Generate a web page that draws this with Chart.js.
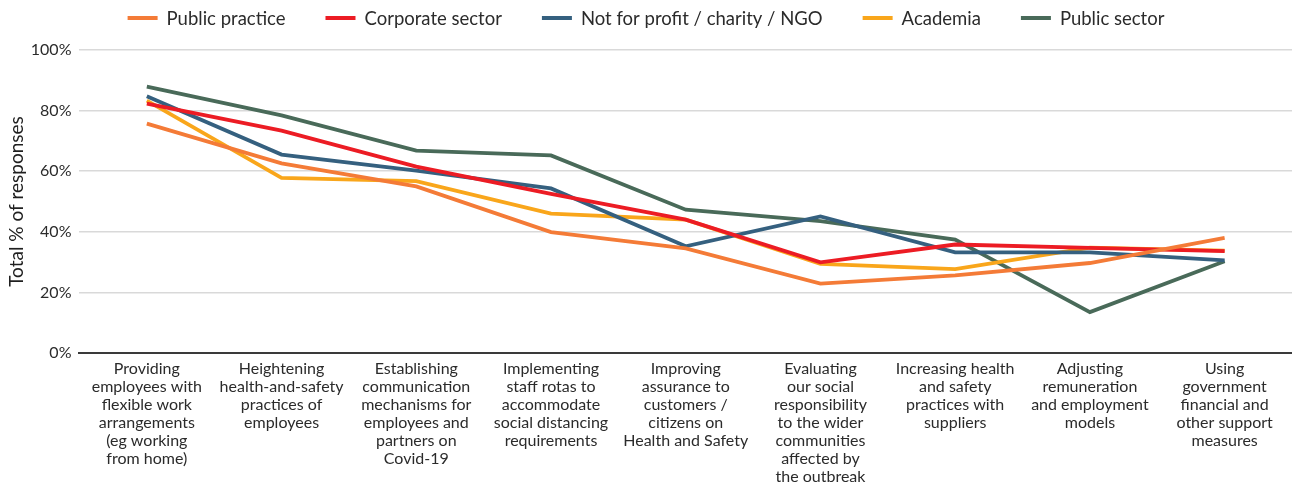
<!DOCTYPE html>
<html>
<head>
<meta charset="utf-8">
<script src="https://cdn.jsdelivr.net/npm/chart.js@4.4.1/dist/chart.umd.min.js"></script>
<style>
	html, body { margin: 0; padding: 0; background: #fff; }
	#wrap { width: 1292px; height: 488px; position: relative; }
</style>
</head>
<body>
<div id="wrap"><canvas id="myChart"></canvas></div>
<script>
var categories = [
	[ "Providing", "employees with", "flexible work", "arrangements", "(eg working", "from home)" ],
	[ "Heightening", "health-and-safety", "practices of", "employees" ],
	[ "Establishing", "communication", "mechanisms for", "employees and", "partners on", "Covid-19" ],
	[ "Implementing", "staff rotas to", "accommodate", "social distancing", "requirements" ],
	[ "Improving", "assurance to", "customers /", "citizens on", "Health and Safety" ],
	[ "Evaluating", "our social", "responsibility", "to the wider", "communities", "affected by", "the outbreak" ],
	[ "Increasing health", "and safety", "practices with", "suppliers" ],
	[ "Adjusting", "remuneration", "and employment", "models" ],
	[ "Using", "government", "financial and", "other support", "measures" ]
];

var seriesNames = [ "Public practice", "Corporate sector", "Not for profit / charity / NGO", "Academia", "Public sector" ];
var seriesColors = [ "#F47B37", "#EC1C24", "#35607F", "#F9A61B", "#496A59" ];

var publicPractice = [ 75.7, 62.6, 55.0, 39.9, 34.5, 22.9, 25.6, 29.7, 38.0 ];
var corporateSector = [ 82.3, 73.4, 61.5, 52.5, 44.0, 29.9, 35.8, 34.7, 33.6 ];
var notForProfit = [ 84.7, 65.5, 60.2, 54.3, 35.2, 45.1, 33.2, 33.2, 30.6 ];
var academia = [ 83.3, 57.8, 56.7, 46.0, 44.0, 29.4, 27.7, 34.8, 33.8 ];
var publicSector = [ 87.9, 78.4, 66.8, 65.2, 47.3, 43.5, 37.4, 13.5, 30.3 ];

var yTicks = [ 0, 20, 40, 60, 80, 100 ];

var seriesValues = [ publicPractice, corporateSector, notForProfit, academia, publicSector ];

var FONT = "Lato, 'Noto Sans', sans-serif";

// legend with short line swatches, drawn above the plot
var lineLegend = {
	id : 'lineLegend',
	afterDraw : function(chart) {
		var ctx = chart.ctx;
		var ds = chart.data.datasets;
		var swatch = 30, gap = 9, spacing = 40, y = 18;
		ctx.save();
		ctx.font = "18.5px " + FONT;
		ctx.textBaseline = 'middle';
		ctx.textAlign = 'left';
		var total = 0;
		for (var i = 0; i < ds.length; i++) {
			total += swatch + gap + ctx.measureText(ds[i].label).width;
			if (i < ds.length - 1) total += spacing;
		}
		var x = (chart.width - total) / 2;
		for (var i = 0; i < ds.length; i++) {
			ctx.fillStyle = ds[i].borderColor;
			ctx.fillRect(x, y - 2, swatch, 4);
			x += swatch + gap;
			ctx.fillStyle = '#2b2b2b';
			ctx.fillText(ds[i].label, x, y + 1);
			x += ctx.measureText(ds[i].label).width + spacing;
		}
		ctx.restore();
	}
};

var datasets = [];
for (var i = 0; i < seriesNames.length; i++) {
	datasets.push({
		label : seriesNames[i],
		data : seriesValues[i],
		borderColor : seriesColors[i],
		backgroundColor : seriesColors[i],
		borderWidth : 3.8,
		pointRadius : 0,
		pointHoverRadius : 0,
		tension : 0,
		fill : false
	});
}

var ctx = document.getElementById("myChart").getContext('2d');
var myChart = new Chart(ctx, {
	type : 'line',
	data : {
		labels : categories,
		datasets : datasets
	},
	plugins : [ lineLegend ],
	options : {
		responsive : true,
		maintainAspectRatio : false,
		animation : false,
		layout : {
			padding : { top : 50, left : 5, right : 0, bottom : -5 }
		},
		plugins : {
			legend : { display : false },
			tooltip : { enabled : false }
		},
		scales : {
			x : {
				offset : true,
				grid : { display : false, drawTicks : false },
				border : { display : true, color : '#3a3a3a', width : 2 },
				ticks : {
					color : '#2b2b2b',
					font : { family : FONT, size : 16, lineHeight : 1.125 },
					maxRotation : 0,
					autoSkip : false,
					padding : 7
				}
			},
			y : {
				min : 0,
				max : 100,
				afterBuildTicks : function(scale) {
					scale.ticks = yTicks.map(function(v) { return { value : v }; });
				},
				grid : { color : '#d9d9d9', lineWidth : 1.5, drawTicks : false },
				border : { display : false },
				ticks : {
					color : '#2b2b2b',
					font : { family : FONT, size : 16 },
					padding : 8,
					callback : function(v) { return v + '%'; }
				},
				title : {
					display : true,
					text : 'Total % of responses',
					color : '#1f1f1f',
					font : { family : FONT, size : 19 },
					padding : { top : 0, bottom : -5 }
				}
			}
		}
	}
});
</script>
</body>
</html>
